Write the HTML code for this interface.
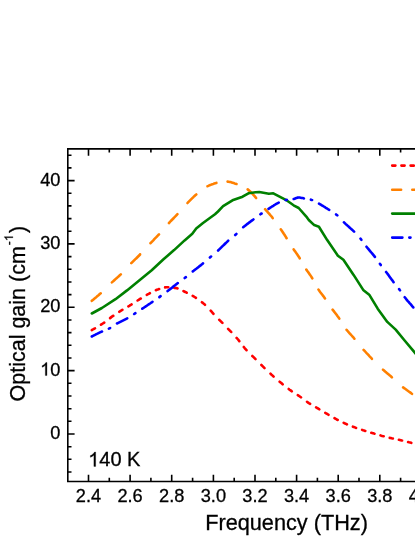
<!DOCTYPE html>
<html><head><meta charset="utf-8"><title>Optical gain</title>
<style>html,body{margin:0;padding:0;background:#fff}svg{display:block}</style>
</head><body>
<svg width="415" height="537" viewBox="0 0 415 537" style="will-change:transform">
<defs><filter id="g" x="0" y="0" width="415" height="537" filterUnits="userSpaceOnUse"><feOffset dx="0" dy="0"/></filter></defs>
<rect width="415" height="537" fill="#fff"/>
<g fill="none" stroke-linecap="round" stroke-linejoin="round" stroke-width="2.60">
<path stroke="#ff0000" d="M91.8 330.1L92.5 329.7L93.5 329.2L94.5 328.6L95.0 328.4M101.0 324.7L101.8 324.2L102.8 323.5L103.8 322.9L104.2 322.6M110.1 318.1L111.0 317.4L112.0 316.6L113.0 315.9L113.3 315.8M119.3 311.8L120.0 311.3L121.0 310.7L122.0 310.0L122.4 309.8M128.4 306.3L129.3 305.8L130.3 305.2L131.3 304.6L131.6 304.4M137.6 300.5L138.6 299.9L139.6 299.2L140.6 298.6L140.8 298.5M146.8 294.8L147.6 294.4L148.6 293.9L149.6 293.3L149.9 293.1M155.9 290.2L156.8 289.8L157.8 289.5L158.8 289.1L159.1 289.0M165.1 287.4L166.1 287.3L167.1 287.3L168.1 287.3L168.3 287.3M174.3 287.9L175.3 288.0L176.3 288.1L177.3 288.3L177.5 288.4M183.5 291.1L184.3 291.5L185.3 292.0L186.3 292.4L186.7 292.7M192.7 295.9L193.6 296.4L194.6 297.0L195.6 297.6L195.9 297.8M201.9 302.2L202.8 302.9L203.8 303.8L204.8 304.6L205.0 304.8M210.7 310.7L211.6 311.7L212.6 312.8L213.5 313.8M219.2 319.8L220.1 320.6L221.1 321.6L222.1 322.6L222.4 322.9M228.1 328.8L229.1 329.8L230.1 330.8L231.1 331.8L231.2 332.0M236.6 337.9L237.6 339.0L238.6 340.2L239.3 341.1M243.8 347.0L244.8 348.3L245.8 349.4L246.5 350.2M252.3 356.0L253.3 356.9L254.3 357.9L255.3 358.9L255.5 359.1M261.4 365.0L262.3 365.9L263.3 366.9L264.3 367.9L264.5 368.1M270.5 373.7L271.3 374.5L272.3 375.4L273.3 376.3L273.6 376.6M279.6 381.7L280.6 382.5L281.6 383.3L282.6 384.2L282.7 384.3M288.7 389.0L289.6 389.7L290.6 390.4L291.6 391.1L291.8 391.3M297.8 395.2L298.8 395.8L299.8 396.5L300.8 397.2L301.0 397.4M307.0 401.8L307.8 402.4L308.8 403.1L309.8 403.7L310.1 403.9M316.1 407.4L317.1 408.0L318.1 408.5L319.1 409.1L319.3 409.3M325.3 412.9L326.1 413.3L327.1 413.9L328.1 414.5L328.5 414.8M334.5 418.2L335.3 418.7L336.3 419.2L337.3 419.8L337.7 420.0M343.7 422.9L344.6 423.3L345.6 423.7L346.6 424.1L346.9 424.3M352.9 426.7L353.8 427.0L354.8 427.4L355.8 427.8L356.1 427.9M362.1 429.9L363.1 430.3L364.1 430.6L365.1 430.9L365.3 431.0M371.3 432.8L372.1 433.0L373.1 433.3L374.1 433.6L374.5 433.7M380.5 435.4L381.3 435.7L382.3 436.0L383.3 436.2L383.7 436.3M389.7 437.9L390.6 438.0L391.6 438.3L392.6 438.5L392.9 438.5M398.9 439.8L399.8 440.0L400.8 440.2L401.8 440.5L402.1 440.5M408.1 442.0L409.1 442.3L410.1 442.5L411.1 442.7L411.3 442.8M417.3 444.0L417.3 444.1L417.6 444.1L417.8 444.2"/>
<path stroke="#ff8000" d="M91.8 300.8L92.5 300.2L93.5 299.4L94.5 298.6L95.5 297.7L96.5 296.9L97.5 296.0L98.5 295.2L99.5 294.3L100.5 293.4L100.7 293.3M111.9 282.4L112.8 281.6L113.8 280.7L114.8 279.8L115.8 278.9L116.8 278.0L117.8 277.1L118.8 276.2L119.8 275.3L120.8 274.4M131.3 263.2L132.1 262.4L133.1 261.4L134.1 260.4L135.1 259.4L136.1 258.5L137.1 257.5L138.1 256.5L139.1 255.5L140.1 254.5L140.1 254.4M150.5 243.2L151.3 242.3L152.3 241.3L153.3 240.3L154.3 239.2L155.3 238.2L156.3 237.2L157.3 236.1L158.3 235.0L159.0 234.3M168.9 223.1L169.8 222.1L170.8 221.0L171.8 220.0L172.8 219.0L173.8 218.0L174.8 216.9L175.8 215.9L176.8 214.8L177.4 214.2M187.5 203.0L188.3 202.1L189.3 201.1L190.3 200.1L191.3 199.1L192.3 198.1L193.3 197.2L194.3 196.2L195.3 195.3L196.3 194.5M207.5 186.2L208.3 185.9L209.3 185.4L210.3 185.0L211.3 184.6L212.3 184.2L213.3 183.9L214.3 183.5L215.3 183.2L216.3 182.9L216.4 182.9M227.6 181.6L228.6 181.7L229.6 181.9L230.6 182.1L231.6 182.4L232.6 182.7L233.6 183.0L234.6 183.4L235.6 183.7L236.5 184.0M247.7 189.4L248.6 190.1L249.6 190.9L250.6 191.9L251.6 192.9L252.6 194.0L253.6 195.1L254.6 196.2L255.6 197.4L256.1 198.0M265.1 209.2L266.1 210.3L267.1 211.4L268.1 212.6L269.1 213.7L270.1 214.9L271.1 216.0L272.1 217.2L272.7 218.1M280.8 229.3L281.8 230.7L282.8 232.2L283.8 233.8L284.8 235.3L285.8 236.9L286.6 238.2M293.7 249.4L294.6 250.7L295.6 252.1L296.6 253.6L297.6 255.0L298.6 256.5L299.6 258.0L299.7 258.3M306.3 269.5L307.1 270.7L308.1 272.1L309.1 273.5L310.1 274.9L311.1 276.4L312.1 278.0L312.3 278.4M318.5 289.6L319.3 290.8L320.3 292.2L321.3 293.5L322.3 294.8L323.3 296.1L324.3 297.5L325.0 298.5M332.6 309.7L333.6 310.9L334.6 312.2L335.6 313.5L336.6 314.8L337.6 316.2L338.6 317.5L339.3 318.6M346.6 329.8L347.6 331.0L348.6 332.2L349.6 333.3L350.6 334.4L351.6 335.5L352.6 336.6L353.6 337.7L354.4 338.7M363.6 349.9L364.6 350.9L365.6 352.0L366.6 353.1L367.6 354.1L368.6 355.2L369.6 356.3L370.6 357.3L371.6 358.3L371.9 358.8M383.0 369.7L383.8 370.3L384.8 371.2L385.8 372.1L386.8 372.9L387.8 373.7L388.8 374.6L389.8 375.4L390.8 376.3L391.8 377.2L391.9 377.3M403.1 387.4L404.1 388.1L405.1 388.8L406.1 389.5L407.1 390.3L408.1 391.0L409.1 391.7L410.1 392.4L411.1 393.1L412.0 393.9"/>
<path stroke="#008000" d="M91.8 313.5L101.9 308.0L115.5 299.2L127.0 290.4L139.5 280.3L151.7 270.2L163.5 259.3L174.1 250.1L184.6 240.4L192.3 233.7L196.2 228.4L203.0 223.0L210.2 217.8L215.0 214.3L218.0 211.5L223.1 206.2L232.5 200.3L242.6 196.7L248.4 193.3L255.6 192.3L259.3 192.0L268.9 193.7L273.3 193.3L285.8 199.8L293.6 205.3L298.7 208.0L306.3 216.6L308.8 220.0L314.2 225.1L318.9 226.7L327.2 240.1L337.9 255.7L343.4 259.8L353.6 274.9L363.2 289.9L369.2 294.7L377.7 308.7L387.3 321.9L395.7 329.6L404.2 340.0L415.0 352.9L418.0 356.5"/>
<path stroke="#0000ff" d="M91.8 336.5L92.5 336.1L93.5 335.6L94.5 335.1L95.5 334.6L96.5 334.0L97.5 333.6L98.5 333.1L99.5 332.6L100.5 332.1L101.5 331.7L102.0 331.5M108.9 328.6L109.8 328.2L110.1 328.0M117.0 323.5L117.8 323.1L118.8 322.6L119.8 322.1L120.8 321.6L121.8 321.1L122.8 320.6L123.8 320.1L124.8 319.6L125.8 319.1L126.8 318.6L127.2 318.4M134.2 314.0L135.1 313.4L135.4 313.2M142.3 308.7L143.1 308.2L144.1 307.5L145.1 306.8L146.1 306.2L147.1 305.5L148.1 304.8L149.1 304.1L150.1 303.5L151.1 302.8L152.1 302.1L152.5 301.8M159.4 297.1L160.3 296.4L160.6 296.2M167.6 291.1L168.3 290.5L169.3 289.8L170.3 289.0L171.3 288.2L172.3 287.4L173.3 286.6L174.3 285.8L175.3 285.1L176.3 284.3L177.3 283.5L177.8 283.1M184.7 278.0L185.6 277.3L185.9 277.1M192.8 271.4L193.6 270.8L194.6 270.0L195.6 269.2L196.6 268.5L197.6 267.7L198.6 266.9L199.6 266.1L200.6 265.4L201.6 264.6L202.6 263.7L203.0 263.4M209.9 257.5L210.8 256.7L211.1 256.5M218.1 250.5L218.8 249.8L219.8 248.9L220.8 247.9L221.8 246.9L222.8 245.9L223.8 245.0L224.8 244.0L225.8 243.0L226.8 242.1L227.8 241.1L228.2 240.7M235.2 235.0L236.1 234.2L236.4 233.9M243.2 227.2L244.1 226.5L245.1 225.7L246.1 224.9L247.1 224.1L248.1 223.4L249.1 222.6L250.1 221.9L251.1 221.1L252.1 220.4L253.1 219.7L253.4 219.4M260.4 214.3L261.3 213.6L261.6 213.5M268.5 208.8L269.3 208.3L270.3 207.7L271.3 207.0L272.3 206.4L273.3 205.8L274.3 205.1L275.3 204.5L276.3 203.9L277.3 203.4L278.3 202.9L278.7 202.7M285.6 200.1L286.6 199.9L286.8 199.8M293.7 199.0L294.6 198.7L295.6 198.3L296.6 197.9L297.6 197.6L298.6 197.5L299.6 197.5L300.6 197.7L301.6 197.9L302.6 198.1L303.6 198.3L303.9 198.4M310.9 199.7L311.8 200.0L312.1 200.0M319.0 203.6L319.8 204.1L320.8 204.7L321.8 205.3L322.8 205.9L323.8 206.5L324.8 207.1L325.8 207.8L326.8 208.4L327.8 209.0L328.8 209.7L329.2 209.9M336.1 214.4L337.1 215.2L337.3 215.4M343.9 222.3L344.8 223.1L345.8 224.1L346.8 225.0L347.8 225.9L348.8 226.8L349.8 227.7L350.8 228.6L351.8 229.5L352.8 230.4L353.8 231.4L354.1 231.7M360.5 238.6L360.6 238.7L360.8 239.0L361.1 239.3L361.3 239.7L361.4 239.8M366.5 246.7L367.3 247.7L368.3 248.9L369.3 250.1L370.3 251.3L371.3 252.5L372.3 253.7L373.3 254.9L374.3 256.1L374.9 256.9M379.9 263.9L380.1 264.0L380.3 264.4L380.6 264.7L380.8 265.0L380.8 265.1M386.1 272.0L387.1 273.3L388.1 274.6L389.1 276.0L390.1 277.4L391.1 278.8L392.1 280.1L393.1 281.5L393.6 282.2M399.1 289.1L399.3 289.4L399.6 289.7L399.8 290.1L400.0 290.3M404.7 297.2L405.6 298.3L406.6 299.6L407.6 300.8L408.6 301.9L409.6 303.1L410.6 304.2L411.6 305.4L412.6 306.6L413.3 307.4"/>
<path stroke="#ff0000" d="M392.2 165.6L395.4 165.6M401.4 165.6L404.6 165.6M410.6 165.6L413.8 165.6"/>
<path stroke="#ff8000" d="M392.2 189.7L401.1 189.7M412.3 189.7L418.7 189.7"/>
<path stroke="#008000" d="M392.2 213.6L418 213.6"/>
<path stroke="#0000ff" d="M392.2 237.6L402.4 237.6M409.3 237.6L410.5 237.6M417.4 237.6L418.7 237.6"/>
</g>
<g stroke="#000" stroke-width="1.6" fill="none" stroke-linecap="butt">
<path d="M417 148.9L67.8 148.9L67.8 481.5L417 481.5" stroke-linejoin="miter"/>
<path d="M88.5 481.5v-6.8M88.5 148.9v6.8M109.3 481.5v-3.7M109.3 148.9v3.7M130.1 481.5v-6.8M130.1 148.9v6.8M150.9 481.5v-3.7M150.9 148.9v3.7M171.7 481.5v-6.8M171.7 148.9v6.8M192.6 481.5v-3.7M192.6 148.9v3.7M213.4 481.5v-6.8M213.4 148.9v6.8M234.2 481.5v-3.7M234.2 148.9v3.7M255.0 481.5v-6.8M255.0 148.9v6.8M275.8 481.5v-3.7M275.8 148.9v3.7M296.6 481.5v-6.8M296.6 148.9v6.8M317.4 481.5v-3.7M317.4 148.9v3.7M338.2 481.5v-6.8M338.2 148.9v6.8M359.0 481.5v-3.7M359.0 148.9v3.7M379.8 481.5v-6.8M379.8 148.9v6.8M400.6 481.5v-3.7M400.6 148.9v3.7M67.8 472.0h3.7M67.8 459.3h3.7M67.8 446.7h3.7M67.8 434.0h6.8M67.8 421.3h3.7M67.8 408.7h3.7M67.8 396.0h3.7M67.8 383.3h3.7M67.8 370.6h6.8M67.8 358.0h3.7M67.8 345.3h3.7M67.8 332.6h3.7M67.8 320.0h3.7M67.8 307.3h6.8M67.8 294.6h3.7M67.8 282.0h3.7M67.8 269.3h3.7M67.8 256.6h3.7M67.8 243.9h6.8M67.8 231.3h3.7M67.8 218.6h3.7M67.8 205.9h3.7M67.8 193.3h3.7M67.8 180.6h6.8M67.8 167.9h3.7M67.8 155.3h3.7"/>
</g>
<g font-family="'Liberation Sans', sans-serif" fill="#000" stroke="#000" stroke-width="0.3" filter="url(#g)">
<text x="88.5" y="502.3" font-size="18.2" text-anchor="middle">2.4</text>
<text x="130.1" y="502.3" font-size="18.2" text-anchor="middle">2.6</text>
<text x="171.7" y="502.3" font-size="18.2" text-anchor="middle">2.8</text>
<text x="213.4" y="502.3" font-size="18.2" text-anchor="middle">3.0</text>
<text x="255.0" y="502.3" font-size="18.2" text-anchor="middle">3.2</text>
<text x="296.6" y="502.3" font-size="18.2" text-anchor="middle">3.4</text>
<text x="338.2" y="502.3" font-size="18.2" text-anchor="middle">3.6</text>
<text x="379.8" y="502.3" font-size="18.2" text-anchor="middle">3.8</text>
<text x="421.5" y="502.3" font-size="18.2" text-anchor="middle">4.0</text>
<text x="60.4" y="438.9" font-size="18.2" text-anchor="end">0</text>
<text x="60.4" y="375.5" font-size="18.2" text-anchor="end">0</text>
<path transform="translate(40.16 375.55) scale(0.00889 -0.00889)" stroke-width="34" d="M763 0L583 0L583 1147Q518 1085 412.5 1023Q307 961 223 930L223 1104Q374 1175 487 1276Q600 1377 647 1472L763 1472Z"/>
<text x="60.4" y="312.2" font-size="18.2" text-anchor="end">20</text>
<text x="60.4" y="248.8" font-size="18.2" text-anchor="end">30</text>
<text x="60.4" y="185.5" font-size="18.2" text-anchor="end">40</text>
<path transform="translate(88.20 466.40) scale(0.00977 -0.00977)" stroke-width="31" d="M763 0L583 0L583 1147Q518 1085 412.5 1023Q307 961 223 930L223 1104Q374 1175 487 1276Q600 1377 647 1472L763 1472Z"/>
<text x="99.32" y="466.4" font-size="20">40 K</text>
<text x="205.2" y="530.1" font-size="21.7">Frequency (THz)</text>
<g transform="translate(25.0 401.5) rotate(-90)">
<text x="0" y="0" font-size="21.5">Optical gain (cm</text>
<text x="156.35" y="-12.1" font-size="12">-</text>
<path transform="translate(160.35 -12.10) scale(0.00586 -0.00586)" stroke-width="51" d="M763 0L583 0L583 1147Q518 1085 412.5 1023Q307 961 223 930L223 1104Q374 1175 487 1276Q600 1377 647 1472L763 1472Z"/>
<text x="168.4" y="0" font-size="21.5">)</text>
</g>
</g>
</svg>
</body></html>
